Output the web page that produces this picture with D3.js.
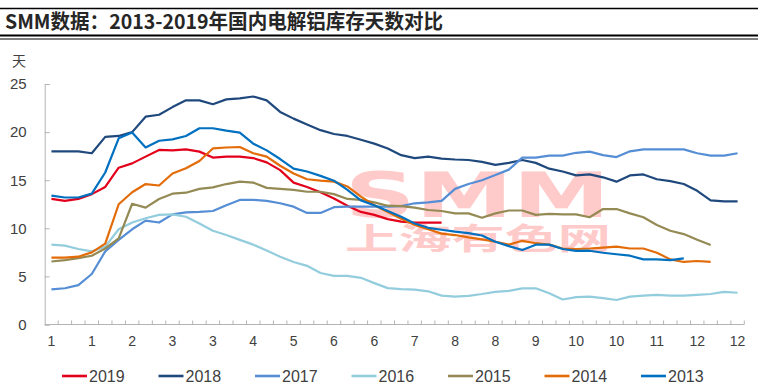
<!DOCTYPE html>
<html><head><meta charset="utf-8">
<script src="https://cdn.jsdelivr.net/npm/d3@7"></script>
<style>body{margin:0;background:#fff}svg{display:block}</style>
</head><body><svg id="c" width="763" height="392"></svg>
<script>
const title = "SMM数据：2013-2019年国内电解铝库存天数对比";
const yUnit = "天";
const months = [1,1,1,1,1,2,2,2,2,3,3,3,3,3,4,4,4,4,5,5,5,6,6,6,6,6,7,7,7,7,8,8,8,8,8,9,9,9,9,10,10,10,10,10,11,11,11,11,12,12,12,12];
const yTicks = [0,5,10,15,20,25];
const seriesNames = ["2019","2018","2017","2016","2015","2014","2013"];
const seriesColors = ["#e3001b","#1f497d","#558ed5","#93cddd","#948a54","#e36c09","#0070c0"];
const v2019 = [13.05,12.85,13.05,13.55,14.3,16.3,16.75,17.45,18.15,18.1,18.2,17.97,17.35,17.45,17.45,17.3,16.85,16.05,14.75,14.3,13.75,13.1,12.35,11.7,11.4,10.95,10.7,10.6,10.6,10.6];
const v2018 = [18.0,18.0,18.0,17.8,19.5,19.6,20.0,21.6,21.8,22.6,23.3,23.3,22.9,23.4,23.5,23.7,23.3,22.1,21.4,20.8,20.2,19.8,19.6,19.2,18.8,18.3,17.6,17.3,17.45,17.25,17.15,17.1,16.9,16.6,16.8,17.1,16.8,16.2,15.9,15.5,15.6,15.3,14.85,15.5,15.6,15.1,14.9,14.6,13.9,12.9,12.8,12.8];
const v2017 = [3.66,3.77,4.1,5.25,7.6,8.8,9.9,10.8,10.6,11.45,11.65,11.7,11.8,12.4,12.95,12.95,12.85,12.6,12.25,11.6,11.6,12.2,12.25,12.25,12.25,12.25,12.3,12.6,12.7,12.85,14.1,14.6,15.0,15.55,16.1,17.35,17.35,17.55,17.55,17.85,17.97,17.6,17.4,18.0,18.2,18.2,18.2,18.2,17.8,17.55,17.55,17.8];
const v2016 = [8.3,8.2,7.85,7.6,8.1,9.9,10.6,11.05,11.4,11.45,11.2,10.5,9.75,9.3,8.8,8.3,7.7,7.05,6.5,6.1,5.35,5.05,5.05,4.85,4.3,3.78,3.68,3.62,3.45,3.0,2.9,2.98,3.17,3.4,3.5,3.76,3.76,3.24,2.6,2.85,2.9,2.75,2.55,2.9,3.0,3.07,3.0,3.0,3.07,3.17,3.4,3.3];
const v2015 = [6.55,6.7,6.9,7.15,7.9,8.95,12.55,12.15,13.05,13.6,13.7,14.1,14.25,14.6,14.85,14.75,14.2,14.1,14.0,13.8,13.8,13.55,13.05,12.95,12.7,12.35,12.3,12.15,11.9,11.8,11.55,11.55,11.1,11.55,11.85,11.85,11.4,11.5,11.45,11.45,11.15,12.0,12.0,11.55,11.15,10.35,9.75,9.4,8.8,8.26];
const v2014 = [6.95,6.95,7.05,7.5,8.4,12.5,13.75,14.6,14.45,15.7,16.25,17.0,18.3,18.4,18.45,17.8,17.45,16.5,15.7,15.1,14.95,14.85,14.35,13.3,12.4,11.7,11.0,10.35,9.9,9.45,9.3,9.05,8.85,8.6,8.3,8.7,8.45,8.3,7.9,7.85,7.9,8.0,8.1,7.9,7.9,7.46,6.77,6.5,6.6,6.5];
const v2013 = [13.4,13.2,13.2,13.6,15.8,19.35,19.95,18.4,19.1,19.25,19.6,20.4,20.4,20.15,19.95,18.8,18.1,17.2,16.2,15.9,15.45,14.95,14.0,12.9,12.4,11.8,11.2,10.5,10.05,9.85,9.65,9.5,9.25,8.6,8.15,7.75,8.3,8.3,7.85,7.65,7.67,7.46,7.3,7.15,6.77,6.77,6.7,6.87];
const seriesValues = [v2019,v2018,v2017,v2016,v2015,v2014,v2013];

const svg = d3.select("#c");
const FONT = "'Liberation Sans Narrow','Liberation Sans',sans-serif";
const CJK = "'Noto Sans CJK SC','Noto Sans',sans-serif";

// title & rules
svg.append("line").attr("x1",0).attr("x2",758).attr("y1",8.5).attr("y2",8.5).attr("stroke","#000").attr("stroke-width",1.5);
svg.append("line").attr("x1",0).attr("x2",758).attr("y1",35.5).attr("y2",35.5).attr("stroke","#000").attr("stroke-width",2);
svg.append("line").attr("x1",0).attr("x2",758).attr("y1",39).attr("y2",39).attr("stroke","#000").attr("stroke-width",1);
svg.append("text").attr("x",5).attr("y",29).attr("font-family",CJK).attr("font-weight","bold")
  .attr("font-size",20).attr("fill","#262626").attr("textLength",438).attr("lengthAdjust","spacingAndGlyphs").text(title);

const x = d3.scaleBand().domain(d3.range(months.length)).range([44.7,744.3]).padding(0);
const y = d3.scaleLinear().domain([0,25]).range([324.5,84]);
const cx = i => x(i) + x.bandwidth()/2;

// watermark
svg.append("text").attr("x",345).attr("y",217).attr("font-family","'DejaVu Sans',sans-serif").attr("font-weight","bold")
  .attr("font-size",62).attr("fill","#ffcaca").attr("textLength",265).attr("lengthAdjust","spacingAndGlyphs").text("SMM");
svg.append("text").attr("x",345).attr("y",249).attr("font-family",CJK).attr("font-weight","bold")
  .attr("font-size",30).attr("fill","#ffcaca").attr("textLength",266).attr("lengthAdjust","spacingAndGlyphs").text("上海有色网");

// axes
const axisColor = "#b4b4b4";
const gy = svg.append("g").attr("transform","translate(44.7,0)")
  .call(d3.axisLeft(y).tickValues(yTicks).tickSize(-5).tickPadding(18));
gy.select(".domain").attr("stroke",axisColor);
gy.selectAll(".tick line").attr("stroke",axisColor);
gy.selectAll("text").attr("font-family",FONT).attr("font-size",15).attr("fill","#404040");

const gx = svg.append("g").attr("transform","translate(0,324.5)")
  .call(d3.axisBottom(x).tickValues(d3.range(0,months.length,3)).tickFormat(i=>months[i]).tickSize(0).tickPadding(12));
gx.select(".domain").attr("stroke",axisColor).attr("d",`M44.7,0H744.3`);
gx.selectAll("text").attr("font-family",FONT).attr("font-size",14).attr("fill","#404040");
svg.append("g").selectAll("line").data(d3.range(1,months.length+1)).join("line")
  .attr("x1",i=>i<months.length?x(i):x.range()[1]).attr("x2",i=>i<months.length?x(i):x.range()[1])
  .attr("y1",320.5).attr("y2",324.5).attr("stroke",axisColor);

svg.append("text").attr("x",12).attr("y",66).attr("font-family",CJK).attr("font-size",14).attr("fill","#404040").text(yUnit);

// series
const line = d3.line().x((d,i)=>cx(i)).y(d=>y(d));
seriesValues.forEach((vals,k)=>{
  svg.append("path").datum(vals).attr("d",line).attr("fill","none")
    .attr("stroke",seriesColors[k]).attr("stroke-width",2.2).attr("stroke-linejoin","round");
});

// legend
const lg = svg.append("g").selectAll("g").data(seriesNames).join("g")
  .attr("transform",(d,i)=>`translate(${62+i*96.5},376)`);
lg.append("line").attr("x1",0).attr("x2",25).attr("stroke",(d,i)=>seriesColors[i]).attr("stroke-width",2.6);
lg.append("text").attr("x",27).attr("y",5.5).attr("font-family",FONT).attr("font-size",16).attr("fill","#404040").text(d=>d);
</script></body></html>
